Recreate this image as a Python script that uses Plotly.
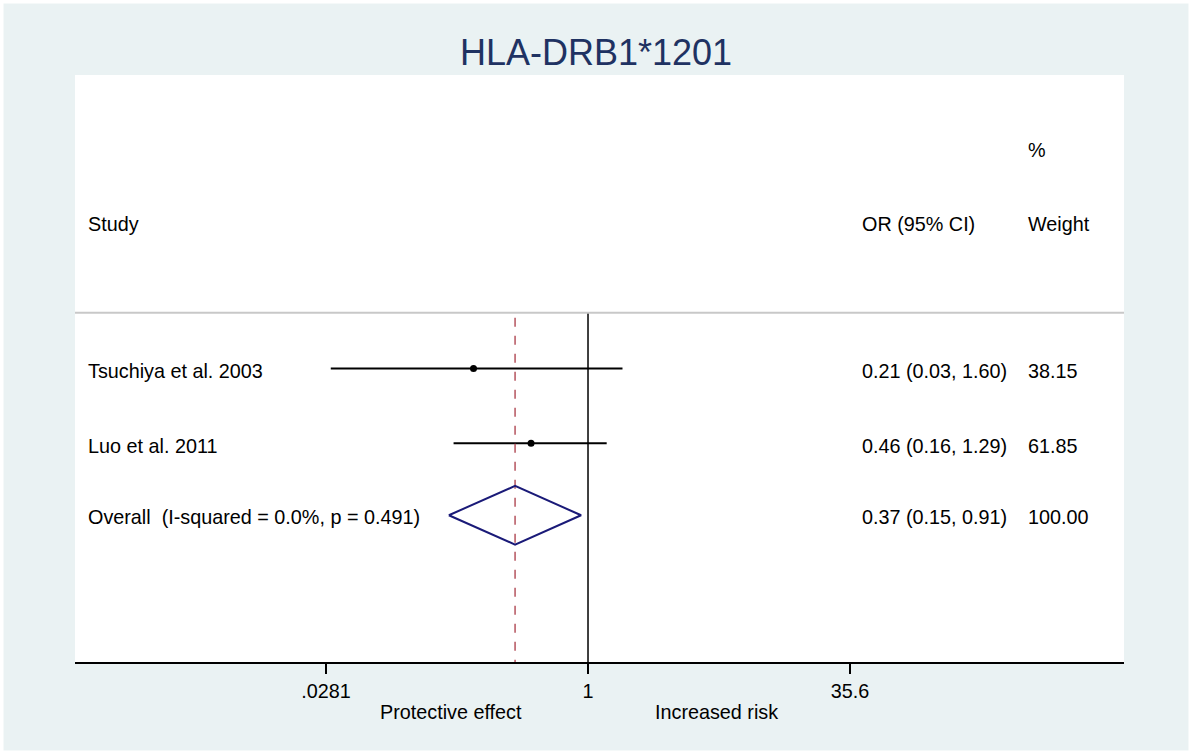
import plotly.graph_objects as go

# ---- data ----
studies = ["Tsuchiya et al. 2003", "Luo et al. 2011"]
or_vals = [0.21, 0.46]
ci_low = [0.03, 0.16]
ci_high = [1.60, 1.29]
weights = ["38.15", "61.85"]

overall_label = "Overall  (I-squared = 0.0%, p = 0.491)"
overall_or = 0.37
overall_low = 0.15
overall_high = 0.91
overall_weight = "100.00"

tick_vals = [0.0281, 1, 35.6]
tick_text = [".0281", "1", "35.6"]

title_text = "HLA-DRB1*1201"

# ---- layout constants ----
FONT = "Liberation Sans, Arial, sans-serif"
FS = 19.8
BG = "#EAF2F3"
row_pos = [0.0, 1.02]          # vertical slot of each study row
overall_pos = 2.0
head_pos = -1.97
pct_pos = -2.98
sep_pos = -0.76
y_top, y_bot = -4.0, 4.0
txt_dy = 0.03

fig = go.Figure()

# CI lines
xs, ys = [], []
for r, lo, hi in zip(row_pos, ci_low, ci_high):
    xs += [lo, hi, None]
    ys += [r, r, None]
fig.add_trace(go.Scatter(x=xs, y=ys, mode="lines",
                         line=dict(color="black", width=2), hoverinfo="skip"))
# point estimates
fig.add_trace(go.Scatter(x=or_vals, y=row_pos, mode="markers",
                         marker=dict(color="black", size=7), hoverinfo="skip"))

# reference line at 1
fig.add_trace(go.Scatter(x=[1, 1], y=[sep_pos, y_bot], mode="lines",
                         line=dict(color="black", width=1.5), hoverinfo="skip"))
# overall dashed line
fig.add_trace(go.Scatter(x=[overall_or, overall_or], y=[sep_pos + 0.07, y_bot], mode="lines",
                         line=dict(color="#B5545E", width=1.5, dash="dash"),
                         hoverinfo="skip"))
# diamond
h = 0.4
fig.add_trace(go.Scatter(
    x=[overall_low, overall_or, overall_high, overall_or, overall_low],
    y=[overall_pos, overall_pos - h, overall_pos, overall_pos + h, overall_pos],
    mode="lines", line=dict(color="#1A1A78", width=2), hoverinfo="skip"))

shapes = [
    dict(type="line", xref="paper", yref="y", x0=0, x1=1, y0=sep_pos, y1=sep_pos,
         line=dict(color="#C8C8C8", width=2)),
    dict(type="rect", xref="paper", yref="paper",
         x0=-75 / 1049, x1=(1192 - 75) / 1049,
         y0=-92 / 587, y1=662 / 587,
         line=dict(color="white", width=7), layer="above"),
]

ann = []
col_study = 0.0105
col_or = 0.7485
col_w = 0.907


def txt(x, y, s, xref="paper", yref="y", size=FS, xanchor="left"):
    ann.append(dict(x=x, y=y, xref=xref, yref=yref, text=s, showarrow=False,
                    xanchor=xanchor, yanchor="middle",
                    font=dict(family=FONT, size=size, color="black")))


txt(col_study, head_pos, "Study")
txt(col_or, head_pos, "OR (95% CI)")
txt(col_w, head_pos, "Weight")
txt(col_w, pct_pos, "%")
for r, s, o, lo, hi, w in zip(row_pos, studies, or_vals, ci_low, ci_high, weights):
    txt(col_study, r + txt_dy, s)
    txt(col_or, r + txt_dy, f"{o:.2f} ({lo:.2f}, {hi:.2f})")
    txt(col_w, r + txt_dy, w)
txt(col_study, overall_pos + txt_dy, overall_label)
txt(col_or, overall_pos + txt_dy, f"{overall_or:.2f} ({overall_low:.2f}, {overall_high:.2f})")
txt(col_w, overall_pos + txt_dy, overall_weight)

# axis captions
for xp, s in [(0.3584, "Protective effect"), (0.612, "Increased risk")]:
    ann.append(dict(x=xp, y=-0.085, xref="paper", yref="paper", text=s,
                    showarrow=False, xanchor="center", yanchor="middle",
                    font=dict(family=FONT, size=FS, color="black")))

fig.update_layout(
    width=1192, height=754,
    margin=dict(l=75, r=68, t=75, b=92),
    paper_bgcolor=BG, plot_bgcolor="white",
    showlegend=False,
    title=dict(text=title_text, x=0.5, xanchor="center", y=1 - 52 / 754, yanchor="middle",
               xref="container", yref="container",
               font=dict(family=FONT, size=36, color="#1F3262")),
    xaxis=dict(type="log", range=[-3.037, 3.173], tickvals=tick_vals, ticktext=tick_text,
               ticks="outside", ticklen=10, tickwidth=1.5, tickcolor="black",
               showline=True, linecolor="black", linewidth=2, showgrid=False,
               zeroline=False, tickfont=dict(family=FONT, size=FS, color="black")),
    yaxis=dict(range=[y_bot, y_top], visible=False, showgrid=False, zeroline=False),
    shapes=shapes,
    annotations=ann,
)

fig.write_html("out.html")
